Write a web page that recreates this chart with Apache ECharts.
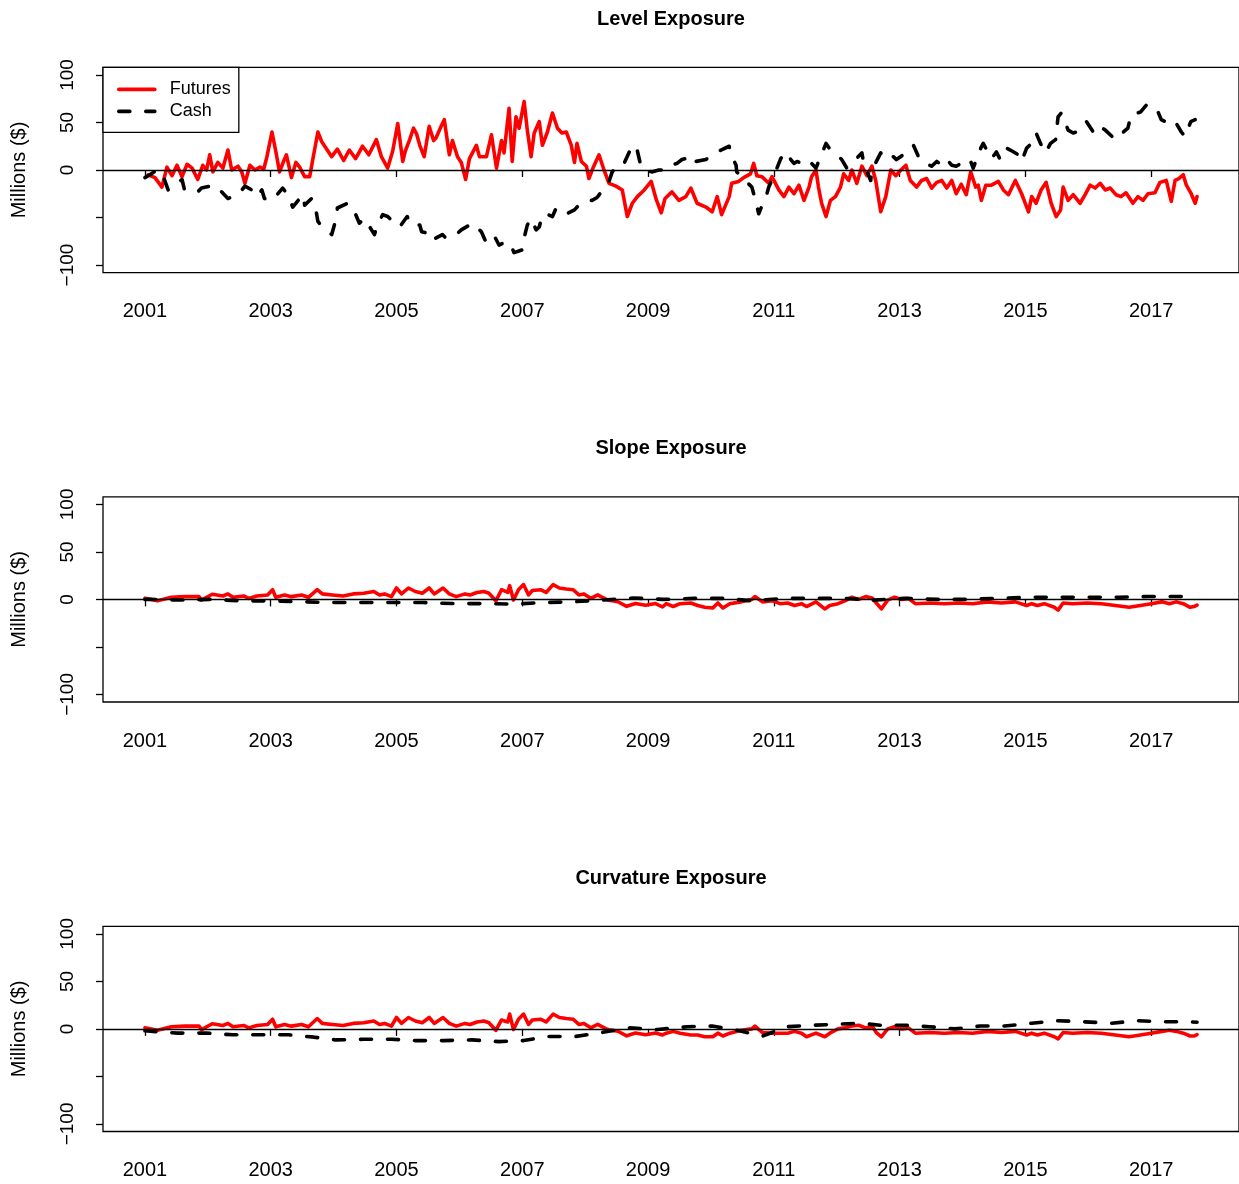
<!DOCTYPE html>
<html>
<head>
<meta charset="utf-8">
<script src="https://cdn.jsdelivr.net/npm/echarts@6/dist/echarts.min.js"></script>
<style>
html,body{margin:0;padding:0;background:#fff;}
#chart{width:1239px;height:1184px;}
</style>
</head>
<body>
<div id="chart"></div>
<script>
// ---------- data ----------
const panelTitles = ['Level Exposure', 'Slope Exposure', 'Curvature Exposure'];
const seriesNames = ['Futures', 'Cash'];
const yAxisName = 'Millions ($)';
const xTickYears = [2001, 2003, 2005, 2007, 2009, 2011, 2013, 2015, 2017];
const yTickValues = [-100, -50, 0, 50, 100];
const yLabelValues = [-100, 0, 50, 100];

// [decimal year, millions $]
const levelFutures = [
 [2001.05,-5],[2001.16,-8],[2001.27,-18],[2001.35,3],[2001.43,-6],[2001.51,5],[2001.59,-7],[2001.67,6],
 [2001.75,2],[2001.84,-10],[2001.92,5],[2001.98,0],[2002.03,16],[2002.08,-2],[2002.16,8],[2002.24,2],
 [2002.32,21],[2002.38,0],[2002.48,4],[2002.54,-2],[2002.59,-14],[2002.67,5],[2002.75,0],[2002.83,3],
 [2002.89,1],[2002.94,14],[2003.02,40],[2003.08,20],[2003.14,-2],[2003.21,10],[2003.25,16],[2003.33,-8],
 [2003.40,8],[2003.46,3],[2003.54,-7],[2003.62,-7],[2003.68,15],[2003.75,40],[2003.81,30],[2003.87,24],
 [2003.97,14],[2004.06,22],[2004.16,10],[2004.25,21],[2004.35,12],[2004.46,25],[2004.56,16],[2004.68,32],
 [2004.76,14],[2004.86,2],[2004.94,20],[2005.02,49],[2005.10,9],[2005.14,20],[2005.21,32],[2005.27,44],
 [2005.32,38],[2005.37,26],[2005.44,14],[2005.52,46],[2005.59,31],[2005.63,34],[2005.71,46],[2005.76,53],
 [2005.84,16],[2005.89,31],[2005.97,14],[2006.03,8],[2006.10,-10],[2006.16,12],[2006.27,26],[2006.32,14],
 [2006.43,14],[2006.51,37],[2006.59,2],[2006.67,31],[2006.71,18],[2006.79,65],[2006.84,9],[2006.90,56],
 [2006.95,44],[2007.03,72],[2007.08,42],[2007.14,14],[2007.19,39],[2007.27,51],[2007.32,26],[2007.40,40],
 [2007.48,60],[2007.56,44],[2007.63,39],[2007.70,40],[2007.78,26],[2007.83,8],[2007.87,28],[2007.94,9],
 [2008.02,4],[2008.06,-9],[2008.13,3],[2008.22,16],[2008.30,0],[2008.38,-14],[2008.49,-17],[2008.59,-21],
 [2008.67,-49],[2008.75,-35],[2008.83,-28],[2008.94,-21],[2009.05,-12],[2009.13,-31],[2009.21,-45],[2009.27,-30],
 [2009.38,-23],[2009.49,-32],[2009.60,-28],[2009.68,-19],[2009.78,-35],[2009.92,-39],[2010.02,-44],[2010.10,-28],
 [2010.17,-47],[2010.29,-28],[2010.33,-14],[2010.44,-12],[2010.52,-8],[2010.63,-4],[2010.68,7],[2010.73,-6],
 [2010.81,-7],[2010.92,-14],[2010.97,-7],[2011.08,-21],[2011.16,-28],[2011.24,-18],[2011.32,-25],[2011.40,-16],
 [2011.48,-32],[2011.56,-18],[2011.60,-7],[2011.67,0],[2011.71,-18],[2011.76,-35],[2011.83,-49],[2011.90,-32],
 [2011.98,-28],[2012.06,-18],[2012.11,-4],[2012.19,-11],[2012.24,0],[2012.32,-14],[2012.40,4],[2012.48,-6],
 [2012.56,4],[2012.62,-11],[2012.70,-44],[2012.78,-28],[2012.86,0],[2012.94,-6],[2013.02,0],[2013.10,5],
 [2013.17,-11],[2013.27,-18],[2013.35,-11],[2013.43,-9],[2013.51,-19],[2013.59,-13],[2013.67,-11],[2013.75,-19],
 [2013.83,-11],[2013.90,-25],[2013.98,-15],[2014.06,-26],[2014.13,-2],[2014.21,-18],[2014.25,-16],[2014.30,-32],
 [2014.37,-16],[2014.46,-16],[2014.57,-12],[2014.65,-21],[2014.73,-26],[2014.84,-11],[2014.94,-25],[2015.05,-44],
 [2015.10,-28],[2015.17,-35],[2015.25,-21],[2015.33,-13],[2015.41,-35],[2015.49,-49],[2015.56,-42],[2015.60,-18],
 [2015.68,-32],[2015.76,-26],[2015.87,-35],[2015.95,-26],[2016.03,-16],[2016.11,-19],[2016.19,-14],[2016.27,-21],
 [2016.35,-19],[2016.44,-26],[2016.52,-28],[2016.60,-24],[2016.71,-35],[2016.79,-28],[2016.87,-32],[2016.95,-25],
 [2017.06,-24],[2017.14,-13],[2017.24,-11],[2017.32,-33],[2017.38,-11],[2017.44,-9],[2017.51,-5],[2017.56,-16],
 [2017.63,-24],[2017.70,-35],[2017.73,-28]
];

const levelCash = [
 [2001.00,-8],[2001.08,-5],[2001.19,0],[2001.27,-3],[2001.37,-21],[2001.44,-17],[2001.59,-10],[2001.63,-21],
 [2001.84,-23],[2001.90,-19],[2002.11,-16],[2002.19,-21],[2002.32,-30],[2002.48,-26],[2002.59,-17],[2002.70,-21],
 [2002.78,-28],[2002.86,-21],[2002.90,-30],[2003.02,-32],[2003.10,-26],[2003.19,-19],[2003.27,-26],[2003.35,-39],
 [2003.51,-26],[2003.54,-37],[2003.65,-30],[2003.70,-35],[2003.75,-54],[2003.83,-61],[2003.97,-68],[2004.05,-49],
 [2004.06,-40],[2004.22,-35],[2004.30,-39],[2004.41,-56],[2004.49,-51],[2004.65,-68],[2004.68,-61],[2004.78,-47],
 [2004.86,-49],[2004.94,-54],[2005.05,-60],[2005.17,-49],[2005.24,-58],[2005.37,-58],[2005.40,-65],[2005.52,-67],
 [2005.56,-74],[2005.73,-68],[2005.79,-72],[2005.95,-68],[2006.03,-63],[2006.16,-58],[2006.21,-56],[2006.35,-65],
 [2006.43,-77],[2006.56,-70],[2006.63,-79],[2006.75,-75],[2006.83,-81],[2006.87,-87],[2007.00,-84],[2007.02,-74],
 [2007.08,-58],[2007.14,-51],[2007.22,-63],[2007.27,-60],[2007.32,-47],[2007.38,-46],[2007.48,-49],[2007.54,-40],
 [2007.63,-42],[2007.71,-46],[2007.83,-42],[2007.90,-37],[2008.03,-32],[2008.11,-32],[2008.19,-29],[2008.22,-27],
 [2008.38,-12],[2008.43,-2],[2008.54,7],[2008.62,7],[2008.73,23],[2008.81,26],[2008.89,3],[2008.97,0],
 [2009.06,-2],[2009.17,0],[2009.29,0],[2009.37,5],[2009.46,7],[2009.54,11],[2009.60,12],[2009.70,5],
 [2009.76,9],[2009.92,11],[2010.02,16],[2010.16,21],[2010.29,25],[2010.32,16],[2010.40,5],[2010.41,-2],
 [2010.49,-7],[2010.56,-12],[2010.65,-18],[2010.68,-25],[2010.76,-46],[2010.89,-25],[2010.92,-18],[2011.00,-6],
 [2011.05,2],[2011.11,12],[2011.19,19],[2011.27,11],[2011.32,7],[2011.37,9],[2011.44,7],[2011.52,11],
 [2011.60,7],[2011.67,2],[2011.83,28],[2011.90,21],[2012.00,16],[2012.08,11],[2012.16,2],[2012.27,9],
 [2012.40,18],[2012.43,7],[2012.54,-11],[2012.56,0],[2012.70,18],[2012.78,11],[2012.90,14],[2012.95,11],
 [2013.10,18],[2013.17,21],[2013.22,26],[2013.30,14],[2013.35,9],[2013.51,4],[2013.59,9],[2013.67,5],
 [2013.75,11],[2013.83,5],[2013.90,4],[2013.98,7],[2014.06,4],[2014.13,9],[2014.17,2],[2014.29,23],
 [2014.33,28],[2014.41,18],[2014.46,12],[2014.54,19],[2014.60,11],[2014.70,23],[2014.76,21],[2014.89,16],
 [2014.94,9],[2015.02,23],[2015.10,28],[2015.17,39],[2015.24,28],[2015.32,18],[2015.40,28],[2015.48,32],
 [2015.52,56],[2015.57,60],[2015.68,42],[2015.76,39],[2015.81,40],[2015.87,46],[2015.97,51],[2016.08,40],
 [2016.16,47],[2016.27,42],[2016.43,32],[2016.56,40],[2016.63,44],[2016.68,58],[2016.83,61],[2016.92,68],
 [2017.06,67],[2017.11,61],[2017.16,53],[2017.22,51],[2017.32,54],[2017.40,49],[2017.48,40],[2017.54,35],
 [2017.59,44],[2017.63,51],[2017.70,53]
];

const slopeFutures = [
 [2001.00,1.1],[2001.20,-1.5],[2001.42,2.2],[2001.63,2.9],[2001.86,2.9],[2001.90,-0.7],[2002.07,5.4],[2002.24,3.6],
 [2002.32,5.8],[2002.40,2.2],[2002.57,3.6],[2002.65,1.1],[2002.78,3.6],[2002.95,4.7],[2003.03,10.2],[2003.08,2.2],
 [2003.22,4.7],[2003.33,2.9],[2003.49,4.7],[2003.60,2.2],[2003.74,10.2],[2003.82,5.8],[2003.98,4.7],[2004.15,3.6],
 [2004.31,5.8],[2004.48,6.5],[2004.64,8.3],[2004.73,4.7],[2004.81,5.8],[2004.92,2.9],[2005.00,12],[2005.08,5.8],
 [2005.19,12],[2005.30,8.3],[2005.41,6.5],[2005.52,12],[2005.60,5.8],[2005.74,12],[2005.84,5.8],[2005.95,2.9],
 [2006.09,5.8],[2006.17,4.7],[2006.28,7.3],[2006.39,8.3],[2006.47,6.5],[2006.58,-1.5],[2006.67,10.2],[2006.77,7.3],
 [2006.80,14.5],[2006.86,-0.7],[2006.94,10.2],[2007.02,15.6],[2007.10,4.7],[2007.16,9.4],[2007.29,10.2],[2007.38,7.3],
 [2007.49,15.6],[2007.59,12],[2007.70,10.9],[2007.81,10.2],[2007.90,4.7],[2007.98,5.8],[2008.09,1.1],[2008.20,4.7],
 [2008.25,2.9],[2008.36,-0.7],[2008.52,-2.5],[2008.66,-7.3],[2008.80,-4.4],[2008.96,-6.2],[2009.12,-4.4],[2009.23,-8],
 [2009.29,-4.5],[2009.40,-7.5],[2009.51,-4.5],[2009.68,-3.8],[2009.79,-6.4],[2009.90,-8.3],[2010.03,-9],[2010.11,-3.8],
 [2010.19,-9],[2010.30,-4.5],[2010.48,-2.6],[2010.65,0],[2010.70,3],[2010.82,-2.6],[2010.98,-1.5],[2011.10,-4.5],
 [2011.22,-3.8],[2011.33,-6.4],[2011.44,-4.5],[2011.52,-7.5],[2011.67,-2.6],[2011.81,-10],[2011.89,-6.4],[2012.02,-4.5],
 [2012.13,-1.5],[2012.24,2.3],[2012.35,0],[2012.46,3],[2012.57,1.1],[2012.63,-3.8],[2012.71,-10],[2012.81,-0.8],
 [2012.92,2.3],[2013.03,0],[2013.14,1.1],[2013.25,-4.5],[2013.48,-3.8],[2013.71,-4.5],[2013.94,-3.8],[2014.16,-4.5],
 [2014.40,-2.6],[2014.62,-3.8],[2014.84,-2.6],[2015.02,-6.4],[2015.10,-4.5],[2015.19,-6.4],[2015.30,-4.5],[2015.46,-8.3],
 [2015.52,-11.3],[2015.60,-3.8],[2015.75,-4.5],[2015.98,-3.8],[2016.21,-4.5],[2016.43,-6.4],[2016.65,-8.3],[2016.83,-6.4],
 [2017.00,-4.5],[2017.17,-2.6],[2017.29,-4.5],[2017.40,-2.6],[2017.51,-4.5],[2017.62,-8.3],[2017.68,-7.5],[2017.73,-6]
];

const slopeCash = [
 [2001.00,0],[2001.09,0],[2001.57,-0.7],[2002.05,0],[2002.52,-1.5],[2003.00,-1.5],[2003.49,-2.5],[2003.98,-3.3],
 [2004.45,-3.3],[2004.92,-3.3],[2005.41,-3.3],[2005.90,-4.4],[2006.37,-4.4],[2006.86,-5],[2007.32,-3.3],[2007.81,-2.5],
 [2008.29,-0.7],[2008.77,1.5],[2009.23,0],[2009.74,1.1],[2010.22,1.1],[2010.65,-1.5],[2011.16,1.1],[2011.67,1.1],
 [2012.13,1.1],[2012.57,-0.8],[2013.08,1.1],[2013.60,0],[2014.05,0],[2014.56,1.1],[2015.06,2.3],[2015.52,2.3],
 [2015.98,2.3],[2016.49,2.3],[2016.94,3],[2017.44,3],[2017.73,3]
];

const curvFutures = [
 [2001.00,1.1],[2001.20,-1.5],[2001.42,2.2],[2001.63,2.9],[2001.86,2.9],[2001.90,-0.7],[2002.07,5.4],[2002.24,3.6],
 [2002.32,5.8],[2002.40,2.2],[2002.57,3.6],[2002.65,1.1],[2002.78,3.6],[2002.95,4.7],[2003.03,10.2],[2003.08,2.2],
 [2003.22,4.7],[2003.33,2.9],[2003.49,4.7],[2003.60,2.2],[2003.74,10.9],[2003.82,5.8],[2003.98,4.7],[2004.15,3.6],
 [2004.31,5.8],[2004.48,6.5],[2004.64,8.3],[2004.73,4.7],[2004.81,5.8],[2004.92,2.9],[2005.00,12],[2005.08,5.8],
 [2005.19,12],[2005.30,8.3],[2005.41,6.5],[2005.52,12],[2005.60,5.8],[2005.74,12],[2005.84,5.8],[2005.95,2.9],
 [2006.09,5.8],[2006.17,4.7],[2006.28,7.3],[2006.39,8.3],[2006.47,6.5],[2006.58,-1.5],[2006.67,9.4],[2006.77,7.3],
 [2006.80,15.6],[2006.86,-0.7],[2006.94,10.2],[2007.02,15.6],[2007.10,4.7],[2007.16,9.4],[2007.29,10.2],[2007.38,7.3],
 [2007.49,15.6],[2007.59,12],[2007.70,10.9],[2007.81,10.2],[2007.90,4.7],[2007.98,5.8],[2008.09,1.1],[2008.20,4.7],
 [2008.25,2.9],[2008.36,-0.7],[2008.52,-2.5],[2008.66,-7.3],[2008.80,-4.4],[2008.96,-6.2],[2009.12,-4.4],[2009.23,-6.4],
 [2009.29,-4.5],[2009.40,-2.6],[2009.51,-4.5],[2009.68,-6.4],[2009.79,-6.4],[2009.90,-8.3],[2010.03,-8.3],[2010.11,-4.5],
 [2010.19,-7.5],[2010.30,-4.5],[2010.48,-1.5],[2010.65,0],[2010.70,3],[2010.82,-3.8],[2010.98,-4.5],[2011.10,-4.5],
 [2011.22,-4.5],[2011.33,-2.6],[2011.44,-4.5],[2011.52,-8.3],[2011.67,-4.5],[2011.81,-8.3],[2011.89,-4.5],[2012.02,0],
 [2012.13,1.1],[2012.24,3],[2012.35,3.8],[2012.46,1.1],[2012.57,2.3],[2012.63,-3.8],[2012.71,-8.3],[2012.81,0],
 [2012.92,2.3],[2013.03,0],[2013.14,1.1],[2013.25,-4.5],[2013.48,-3.8],[2013.71,-4.5],[2013.94,-3.8],[2014.16,-4.5],
 [2014.40,-2.6],[2014.62,-3.8],[2014.84,-2.6],[2015.02,-6.4],[2015.10,-4.5],[2015.19,-6.4],[2015.30,-4.5],[2015.46,-8.3],
 [2015.52,-10.5],[2015.60,-3.8],[2015.75,-4.5],[2015.98,-3.8],[2016.21,-4.5],[2016.43,-6.4],[2016.65,-8.3],[2016.83,-6.4],
 [2017.00,-4.5],[2017.17,-2.6],[2017.29,-1.5],[2017.40,-2.6],[2017.51,-4.5],[2017.62,-7.5],[2017.68,-7.5],[2017.73,-6]
];

const curvCash = [
 [2001.00,-2],[2001.09,-2.5],[2001.52,-4.4],[2001.97,-4.4],[2002.40,-6.2],[2002.87,-6.2],[2003.28,-6.2],[2003.69,-8.7],
 [2004.04,-11.6],[2004.48,-10.9],[2004.92,-10.9],[2005.30,-12.3],[2005.74,-12.3],[2006.20,-11.6],[2006.63,-13.4],[2007.02,-12.3],
 [2007.40,-8],[2007.84,-8],[2008.28,-3.6],[2008.71,1.1],[2009.15,-0.7],[2009.63,2.3],[2010.02,3],[2010.42,-1.5],
 [2010.82,-7.5],[2011.22,2.3],[2011.61,3.8],[2012.01,4.9],[2012.38,6],[2012.69,3.8],[2013.09,3.8],[2013.48,2.3],
 [2013.88,0],[2014.28,3],[2014.67,3],[2015.10,6],[2015.52,8.6],[2015.92,7.5],[2016.37,6],[2016.79,8.6],
 [2017.22,7.5],[2017.62,7.5],[2017.73,7]
];

const panelData = [
  [levelFutures, levelCash],
  [slopeFutures, slopeCash],
  [curvFutures, curvCash]
];

// ---------- layout / style ----------
const FONT = 'Liberation Sans, Arial, Helvetica, sans-serif';
const panelTops = [67.4, 496.8, 926.3];
const panelH = 205.2;
const titleTops = [4, 433, 863];

const grids = panelTops.map(t => ({
  left: 103, right: -2, top: t, height: panelH,
  show: true, borderColor: '#000', borderWidth: 1.3, backgroundColor: 'transparent'
}));

const xAxes = panelTops.map((t, i) => ({
  type: 'value', gridIndex: i, min: 2000.3333, max: 2018.3968,
  axisLine: { show: false },
  splitLine: { show: false },
  axisTick: { show: true, inside: false, length: 7, customValues: xTickYears,
              lineStyle: { color: '#000', width: 1.3 } },
  axisLabel: { show: true, customValues: xTickYears, margin: 29, color: '#000',
               fontSize: 20, fontFamily: FONT, formatter: v => String(Math.round(v)) }
}));

const yAxes = panelTops.map((t, i) => ({
  type: 'value', gridIndex: i, min: -108, max: 108,
  axisLine: { show: false },
  splitLine: { show: false },
  axisTick: { show: true, inside: false, length: 7, customValues: yTickValues,
              lineStyle: { color: '#000', width: 1.3 } },
  axisLabel: { show: true, customValues: yLabelValues, rotate: 90, margin: 26, color: '#000',
               fontSize: 19, fontFamily: FONT,
               formatter: v => (v < 0 ? '\u2212' + Math.abs(v) : String(v)) },
  name: yAxisName, nameLocation: 'middle', nameGap: 74, nameRotate: 90,
  nameTextStyle: { color: '#000', fontSize: 20, fontFamily: FONT }
}));

const titles = panelTitles.map((txt, i) => ({
  text: txt, left: 666, top: titleTops[i], textAlign: 'center',
  textStyle: { color: '#000', fontSize: 20, fontWeight: 'bold', fontFamily: FONT }
}));

const series = [];
panelData.forEach((pair, i) => {
  series.push({
    name: seriesNames[0], type: 'line', xAxisIndex: i, yAxisIndex: i,
    data: pair[0], symbol: 'none', showSymbol: false, smooth: false,
    lineStyle: { color: '#FF0000', width: 3.6, join: 'round', cap: 'round' },
    itemStyle: { color: '#FF0000' },
    z: 2,
    markLine: {
      silent: true, symbol: ['none', 'none'], label: { show: false },
      lineStyle: { color: '#000', width: 1.3, type: 'solid' },
      data: [{ yAxis: 0 }], animation: false
    }
  });
  series.push({
    name: seriesNames[1], type: 'line', xAxisIndex: i, yAxisIndex: i,
    data: pair[1], symbol: 'none', showSymbol: false, smooth: false,
    lineStyle: { color: '#000', width: 3.6, type: [11, 16], cap: 'round', join: 'round' },
    itemStyle: { color: '#000' },
    z: 3
  });
});

const chart = echarts.init(document.getElementById('chart'), null, { renderer: 'canvas' });
chart.setOption({
  animation: false,
  backgroundColor: '#fff',
  title: titles,
  grid: grids,
  xAxis: xAxes,
  yAxis: yAxes,
  legend: {
    data: seriesNames,
    left: 103, top: 67.4,
    orient: 'vertical',
    selectedMode: false,
    itemWidth: 36, itemHeight: 18, itemGap: 4,
    padding: [13, 8, 12, 14],
    borderColor: '#000', borderWidth: 1.3,
    backgroundColor: '#fff',
    itemStyle: { opacity: 0, borderWidth: 0 },
    lineStyle: { width: 3.6, cap: 'round' },
    textStyle: { color: '#000', fontSize: 18, fontFamily: FONT, padding: [0, 0, 0, 10] }
  },
  series: series
});
</script>
</body>
</html>
